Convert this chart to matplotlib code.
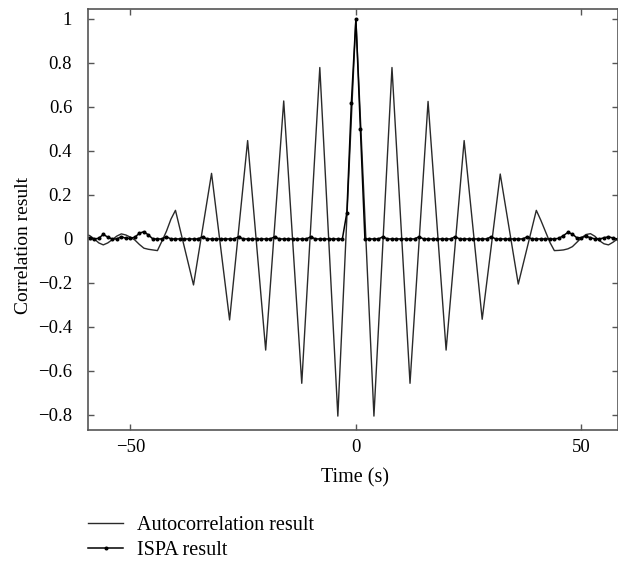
import matplotlib
matplotlib.use("Agg")
import matplotlib.pyplot as plt

# --- Data ---
# autocorrelation: breakpoints (lags in s, value)
auto_t = [-60, -59, -58, -57, -56, -55, -54, -53, -52, -51, -50, -49, -48,
          -47, -46, -45, -44, -43, -42, -41, -40, -36, -32, -28, -24, -20,
          -16, -12, -8, -4, 0, 4, 8, 12, 16, 20, 24, 28, 32, 36, 40, 41, 42,
          43, 44, 45, 46, 47, 48, 49, 50, 51, 52, 53, 54, 55, 56, 57, 58]
auto_v = [0.022, 0.015, 0.0, -0.018, -0.027, -0.018, -0.003, 0.013, 0.023,
          0.018, 0.008, -0.005, -0.025, -0.042, -0.047, -0.050, -0.053,
          -0.010, 0.035, 0.090, 0.130, -0.209, 0.298, -0.368, 0.447, -0.505,
          0.627, -0.656, 0.779, -0.805, 1.0, -0.805, 0.779, -0.656, 0.625,
          -0.505, 0.447, -0.365, 0.295, -0.205, 0.130, 0.085, 0.035, -0.015,
          -0.053, -0.052, -0.050, -0.045, -0.035, -0.015, 0.005, 0.020,
          0.024, 0.012, -0.008, -0.022, -0.027, -0.015, 0.0]

# ISPA result: one sample per second, -60 .. 58
ispa_t = list(range(-60, 59))
ispa_v = [
    0.005, 0.006, 0.0, 0.003, 0.021, 0.008, 0.0, 0.0, 0.010, 0.003,   # -60..-51
    0.003, 0.008, 0.026, 0.033, 0.018, 0.0, 0.0, 0.0, 0.010, 0.0,     # -50..-41
    0.0, 0.0, 0.0, 0.0, 0.0, 0.0, 0.010, 0.0, 0.0, 0.0,               # -40..-31
    0.0, 0.0, 0.0, 0.0, 0.010, 0.0, 0.0, 0.0, 0.0, 0.0,               # -30..-21
    0.0, 0.0, 0.010, 0.0, 0.0, 0.0, 0.0, 0.0, 0.0, 0.0,               # -20..-11
    0.010, 0.0, 0.0, 0.0, 0.0, 0.0, 0.0, 0.0, 0.120, 0.620,           # -10..-1
    1.0, 0.500, 0.0, 0.0, 0.0, 0.0, 0.010, 0.0, 0.0, 0.0,             # 0..9
    0.0, 0.0, 0.0, 0.0, 0.010, 0.0, 0.0, 0.0, 0.0, 0.0,               # 10..19
    0.0, 0.0, 0.010, 0.0, 0.0, 0.0, 0.0, 0.0, 0.0, 0.0,               # 20..29
    0.010, 0.0, 0.0, 0.0, 0.0, 0.0, 0.0, 0.0, 0.010, 0.0,             # 30..39
    0.0, 0.0, 0.0, 0.0, 0.0, 0.003, 0.015, 0.030, 0.022, 0.005,       # 40..49
    0.006, 0.012, 0.006, 0.0, 0.0, 0.005, 0.010, 0.004, 0.0,          # 50..58
]

x_ticks = [-50, 0, 50]
x_tick_labels = ["\u221250", "0", "50"]
y_ticks = [-0.8, -0.6, -0.4, -0.2, 0, 0.2, 0.4, 0.6, 0.8, 1]
y_tick_labels = ["\u22120.8", "\u22120.6", "\u22120.4", "\u22120.2", "0",
                 "0.2", "0.4", "0.6", "0.8", "1"]

SPINE_COLOR = '#555555'

plt.rcParams['font.family'] = ['Liberation Serif', 'DejaVu Serif']
plt.rcParams['font.size'] = 14

fig = plt.figure(figsize=(6.18, 5.65), dpi=100)
ax = fig.add_axes([0.1416, 0.2398, 0.8576, 0.7443])

ax.plot(auto_t, auto_v, color='#2a2a2a', linewidth=1.0,
        label='Autocorrelation result')
ax.plot(ispa_t, ispa_v, color='black', linewidth=1.1, marker='o',
        markersize=1.9, label='ISPA result')

ax.set_xlim(-59.5, 58.0)
ax.set_ylim(-0.866, 1.045)
ax.set_xticks(x_ticks)
ax.set_xticklabels(x_tick_labels)
ax.set_yticks(y_ticks)
ax.set_yticklabels(y_tick_labels)

ax.tick_params(direction='in', length=4, width=1, color=SPINE_COLOR,
               top=True, right=True, labelsize=13.5)
ax.tick_params(axis='x', pad=7)
ax.tick_params(axis='y', pad=11)
for spine in ax.spines.values():
    spine.set_edgecolor(SPINE_COLOR)
    spine.set_linewidth(1.2)

ax.set_xlabel('Time (s)', fontsize=14.5)
ax.xaxis.label.set_va('center')
ax.xaxis.set_label_coords(0.505, -0.1153)
ax.set_ylabel('Correlation result', fontsize=14)
ax.yaxis.label.set_va('center')
ax.yaxis.set_label_coords(-0.1216, 0.437)

ax.legend(loc='upper left', bbox_to_anchor=(88 / 618, 1 - 516 / 565),
          bbox_transform=fig.transFigure, frameon=False, borderpad=0,
          borderaxespad=0, handlelength=1.75, handletextpad=0.7,
          labelspacing=0.3, fontsize=14.5)

fig.savefig('out.png', dpi=100)
plt.close(fig)
